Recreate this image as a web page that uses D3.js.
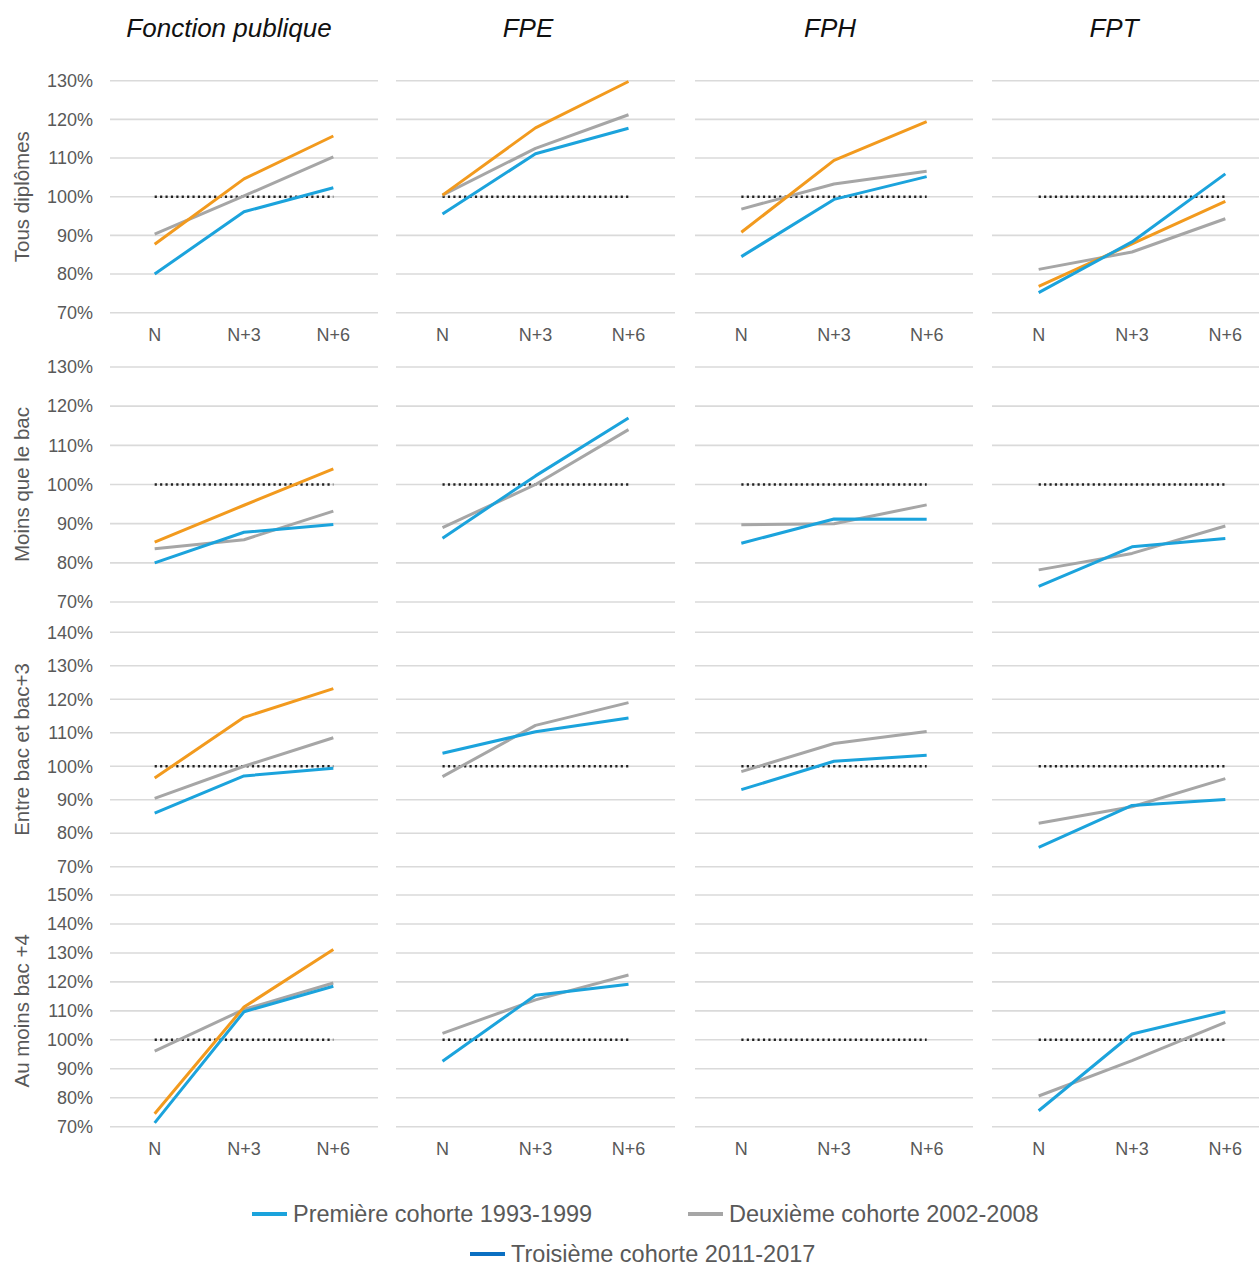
<!DOCTYPE html>
<html>
<head>
<meta charset="utf-8">
<script src="https://cdn.jsdelivr.net/npm/d3@7"></script>
<style>
  html, body { margin: 0; padding: 0; background: #fff; }
  svg { display: block; font-family: "Liberation Sans", Arial, sans-serif; }
</style>
</head>
<body>
<svg id="chart" width="1259" height="1266"></svg>
<script>
// ---------- data ----------
const columns = ["Fonction publique", "FPE", "FPH", "FPT"];
const rowLabels = ["Tous diplômes", "Moins que le bac", "Entre bac et bac+3", "Au moins bac +4"];
const periods = ["N", "N+3", "N+6"];
const seriesNames = ["Première cohorte 1993-1999", "Deuxième cohorte 2002-2008", "Troisième cohorte 2011-2017"];
const rowTicks = [
  [70, 80, 90, 100, 110, 120, 130],
  [70, 80, 90, 100, 110, 120, 130],
  [70, 80, 90, 100, 110, 120, 130, 140],
  [70, 80, 90, 100, 110, 120, 130, 140, 150]
];
const referenceLevel = 100;

// values [row][column][period], null = not shown
const cohorte1 = [
  [[80, 96.1, 102.3], [95.5, 111.1, 117.7], [84.5, 99.3, 105.2], [75.2, 88.3, 105.9]],
  [[80, 87.8, 89.8], [86.3, 102.2, 117], [85, 91.2, 91.1], [74, 84.1, 86.2]],
  [[86, 97.1, 99.4], [103.9, 110.3, 114.4], [93, 101.5, 103.3], [75.8, 88.3, 90.1]],
  [[71.3, 109.7, 118.5], [92.6, 115.4, 119.2], null, [75.5, 102, 109.7]]
];
const cohorte2 = [
  [[90.3, 100.2, 110.3], [100.4, 112.5, 121.2], [96.8, 103.3, 106.6], [81.2, 85.7, 94.3]],
  [[83.6, 85.9, 93.2], [89, 100, 114], [89.7, 90, 94.8], [78.2, 82.4, 89.4]],
  [[90.4, 100, 108.5], [96.9, 112.2, 119], [98.4, 106.8, 110.4], [83, 87.9, 96.3]],
  [[96.1, 110.5, 119.6], [102.2, 113.8, 122.4], null, [80.6, 92.8, 106]]
];
const cohorte3 = [
  [[87.7, 104.6, 115.7], [100.4, 117.8, 129.8], [90.8, 109.4, 119.4], [76.8, 87.8, 98.8]],
  [[85.3, 94.7, 104], null, null, null],
  [[96.5, 114.6, 123.2], null, null, null],
  [[74.5, 111.3, 131.2], null, null, null]
];

// ---------- styles / layout ----------
const lineColors = ["#1BA3DC", "#A6A6A6", "#F29A1E"];
const legendColors = ["#1BA3DC", "#A6A6A6", "#0A6FC2"];
const colRanges = [[110, 378], [396, 675], [695, 973], [992, 1272]];
const titleX = [229, 528, 830, 1114];
const rowRanges = [
  { top: 80.7, bottom: 312.7, xLabelY: 335 },
  { top: 367, bottom: 602, xLabelY: null },
  { top: 632.3, bottom: 866.7, xLabelY: null },
  { top: 895, bottom: 1126.7, xLabelY: 1149 }
];

const svg = d3.select("#chart");
const series = [cohorte1, cohorte2, cohorte3];
const drawOrder = [1, 2, 0];

// column titles
columns.forEach((c, ci) => {
  svg.append("text")
    .attr("x", titleX[ci])
    .attr("y", 37)
    .attr("text-anchor", "middle")
    .attr("font-size", 26)
    .attr("font-style", "italic")
    .attr("fill", "#111")
    .text(c);
});

rowLabels.forEach((rl, ri) => {
  const rr = rowRanges[ri];
  const ticks = rowTicks[ri];
  const y = d3.scaleLinear().domain([d3.min(ticks), d3.max(ticks)]).range([rr.bottom, rr.top]);

  // row label
  const cy = (rr.top + rr.bottom) / 2;
  svg.append("text")
    .attr("transform", `translate(29,${cy}) rotate(-90)`)
    .attr("text-anchor", "middle")
    .attr("font-size", 20.5)
    .attr("fill", "#595959")
    .text(rl);

  // y tick labels
  const yAxis = d3.axisLeft(y).tickValues(ticks).tickSize(0).tickPadding(0)
    .tickFormat(d => d + "%");
  const ga = svg.append("g").attr("transform", "translate(93,0)").call(yAxis);
  ga.select(".domain").remove();
  ga.selectAll("text").attr("font-size", 18).attr("fill", "#595959")
    .attr("font-family", "Liberation Sans, Arial, sans-serif");

  columns.forEach((c, ci) => {
    const xr = colRanges[ci];
    const x = d3.scalePoint().domain(periods).range(xr).padding(0.5);
    const g = svg.append("g");

    // gridlines
    g.selectAll("line.grid").data(ticks).enter().append("line")
      .attr("x1", xr[0]).attr("x2", Math.min(xr[1], 1259))
      .attr("y1", d => y(d)).attr("y2", d => y(d))
      .attr("stroke", "#DADADA").attr("stroke-width", 1.6);

    // reference dotted line
    g.append("line")
      .attr("x1", x("N")).attr("x2", x("N+6"))
      .attr("y1", y(referenceLevel)).attr("y2", y(referenceLevel))
      .attr("stroke", "#222").attr("stroke-width", 2.6)
      .attr("stroke-dasharray", "2.2,3.2");

    const line = d3.line().x((d, i) => x(periods[i])).y(d => y(d));
    drawOrder.forEach(si => {
      const vals = series[si][ri][ci];
      if (!vals) return;
      g.append("path")
        .attr("d", line(vals))
        .attr("fill", "none")
        .attr("stroke", lineColors[si])
        .attr("stroke-width", 3)
        .attr("stroke-linejoin", "round");
    });

    // x labels
    if (rr.xLabelY !== null) {
      g.selectAll("text.xl").data(periods).enter().append("text")
        .attr("x", d => x(d)).attr("y", rr.xLabelY)
        .attr("dy", "0.35em")
        .attr("text-anchor", "middle")
        .attr("font-size", 18).attr("fill", "#595959")
        .text(d => d);
    }
  });
});

// legend
const legendItems = [
  { x: 252, y: 1214 },
  { x: 688, y: 1214 },
  { x: 470, y: 1254 }
];
seriesNames.forEach((s, i) => {
  const li = legendItems[i];
  svg.append("line")
    .attr("x1", li.x).attr("x2", li.x + 35)
    .attr("y1", li.y).attr("y2", li.y)
    .attr("stroke", legendColors[i]).attr("stroke-width", 4);
  svg.append("text")
    .attr("x", li.x + 41).attr("y", li.y)
    .attr("dy", "0.35em")
    .attr("font-size", 23.5).attr("fill", "#595959")
    .text(s);
});
</script>
</body>
</html>
